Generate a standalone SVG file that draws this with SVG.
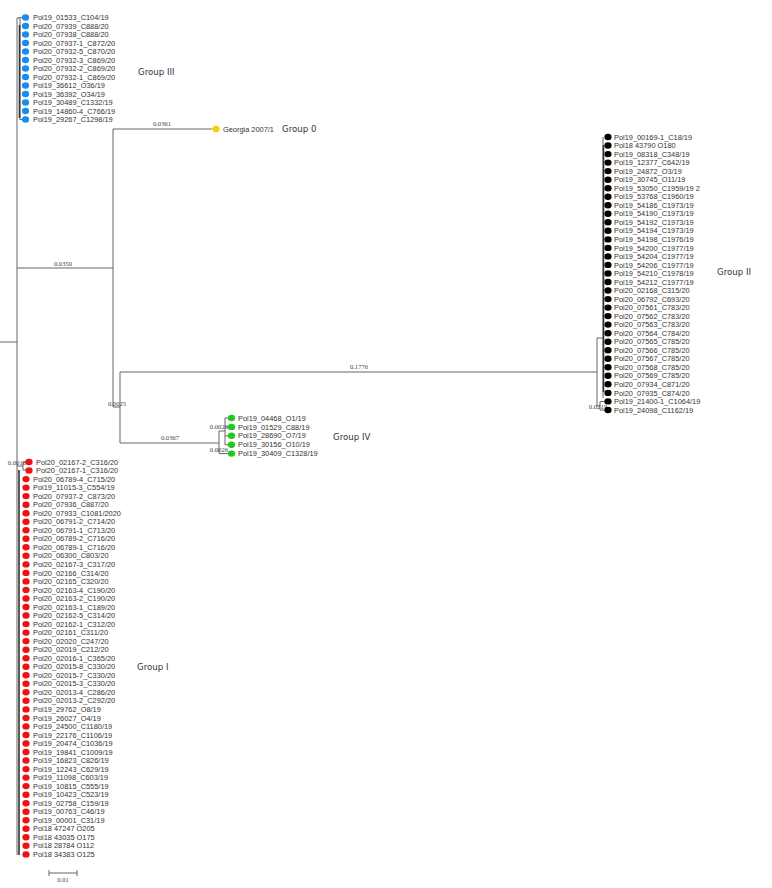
<svg xmlns="http://www.w3.org/2000/svg" width="772" height="888" viewBox="0 0 772 888">
<style>
.e{fill:none;stroke:#666;stroke-width:1}
.k{fill:none;stroke:#333;stroke-width:1.6}
.t{font-family:"Liberation Sans",Arial,sans-serif;font-size:7.4px;fill:#333}
.b{font-family:"Liberation Serif",serif;font-size:6.6px;fill:#444}
.g{font-family:"DejaVu Sans",sans-serif;font-size:8.6px;fill:#333}
.blue{fill:#1a8cf0}.red{fill:#f01010}.grn{fill:#22c822}.yel{fill:#f2d200}.blk{fill:#000}
</style>
<rect width="772" height="888" fill="#fff"/>
<g id="connectors">
<path class="e" d="M0 342H17M17 18V855"/>
<path class="e" d="M17 18H20M20 17V120"/>
<path class="k" d="M19.5 25V118"/>
<path class="e" d="M17 268H113M113 129V407M113 129H212M113 407H120M120 372V443M120 372H597M120 443H219"/>
<path class="e" d="M219 431V453.6M219 431H225M225 418V444.7M219 453.6H231"/>
<path class="e" d="M603 137V398M597 338V406M597 338H603M597 406H600M600 401.5V410"/>
<path class="k" d="M603.5 145V392"/>
<path class="e" d="M17 466H23M23 462V470"/>
<path class="k" d="M19 470V855"/>
<path class="e" d="M49 873H77M49 870V876M77 870V876"/>
</g>
<g id="branch-labels">
<text class="b" x="162" y="126" text-anchor="middle">0.0361</text>
<text class="b" x="63" y="266" text-anchor="middle">0.0350</text>
<text class="b" x="359" y="369" text-anchor="middle">0.1776</text>
<text class="b" x="117" y="406" text-anchor="middle">0.0025</text>
<text class="b" x="170" y="440" text-anchor="middle">0.0367</text>
<text class="b" x="228" y="429" text-anchor="end">0.0026</text>
<text class="b" x="228" y="452" text-anchor="end">0.0026</text>
<text class="b" x="607" y="409" text-anchor="end">0.0219</text>
<text class="b" x="26" y="465" text-anchor="end">0.0018</text>
<text class="b" x="63" y="882" text-anchor="middle">0.01</text>
</g>
<g id="group-labels">
<text class="g" x="138" y="75">Group III</text>
<text class="g" x="282" y="132">Group 0</text>
<text class="g" x="717" y="275">Group II</text>
<text class="g" x="333" y="440">Group IV</text>
<text class="g" x="137" y="670">Group I</text>
</g>
<g id="group-III">
<g id="n-b1"><path class="e" d="M20 17.5H25"/><ellipse class="blue" cx="25.5" cy="17.5" rx="3.6" ry="3.2"/><text class="t" x="33" y="20.1">Pol19_01533_C104/19</text></g>
<g id="n-b2"><ellipse class="blue" cx="25.5" cy="26" rx="3.6" ry="3.2"/><text class="t" x="33" y="28.6">Pol20_07939_C888/20</text></g>
<g id="n-b3"><ellipse class="blue" cx="25.5" cy="34.5" rx="3.6" ry="3.2"/><text class="t" x="33" y="37.1">Pol20_07938_C888/20</text></g>
<g id="n-b4"><ellipse class="blue" cx="25.5" cy="43" rx="3.6" ry="3.2"/><text class="t" x="33" y="45.6">Pol20_07937-1_C872/20</text></g>
<g id="n-b5"><ellipse class="blue" cx="25.5" cy="51.5" rx="3.6" ry="3.2"/><text class="t" x="33" y="54.1">Pol20_07932-5_C870/20</text></g>
<g id="n-b6"><ellipse class="blue" cx="25.5" cy="60" rx="3.6" ry="3.2"/><text class="t" x="33" y="62.6">Pol20_07932-3_C869/20</text></g>
<g id="n-b7"><ellipse class="blue" cx="25.5" cy="68.5" rx="3.6" ry="3.2"/><text class="t" x="33" y="71.1">Pol20_07932-2_C869/20</text></g>
<g id="n-b8"><ellipse class="blue" cx="25.5" cy="77" rx="3.6" ry="3.2"/><text class="t" x="33" y="79.6">Pol20_07932-1_C869/20</text></g>
<g id="n-b9"><ellipse class="blue" cx="25.5" cy="85.5" rx="3.6" ry="3.2"/><text class="t" x="33" y="88.1">Pol19_36612_O36/19</text></g>
<g id="n-b10"><ellipse class="blue" cx="25.5" cy="94" rx="3.6" ry="3.2"/><text class="t" x="33" y="96.6">Pol19_36392_O34/19</text></g>
<g id="n-b11"><ellipse class="blue" cx="25.5" cy="102.5" rx="3.6" ry="3.2"/><text class="t" x="33" y="105.1">Pol19_30489_C1332/19</text></g>
<g id="n-b12"><ellipse class="blue" cx="25.5" cy="111" rx="3.6" ry="3.2"/><text class="t" x="33" y="113.6">Pol19_14860-4_C766/19</text></g>
<g id="n-b13"><path class="e" d="M20 119.5H25"/><ellipse class="blue" cx="25.5" cy="119.5" rx="3.6" ry="3.2"/><text class="t" x="33" y="122.1">Pol19_29267_C1298/19</text></g>
</g>
<g id="group-0">
<g id="n-georgia"><ellipse class="yel" cx="216" cy="129" rx="3.6" ry="3.2"/><text class="t" x="223" y="131.6">Georgia 2007/1</text></g>
</g>
<g id="group-II">
<g id="n-k1"><ellipse class="blk" cx="608" cy="137" rx="3.6" ry="3.2"/><text class="t" x="614" y="139.6">Pol19_00169-1_C18/19</text></g>
<g id="n-k2"><ellipse class="blk" cx="608" cy="145.5" rx="3.6" ry="3.2"/><text class="t" x="614" y="148.1">Pol18 43790 O180</text></g>
<g id="n-k3"><ellipse class="blk" cx="608" cy="154.1" rx="3.6" ry="3.2"/><text class="t" x="614" y="156.7">Pol19_08318_C348/19</text></g>
<g id="n-k4"><ellipse class="blk" cx="608" cy="162.6" rx="3.6" ry="3.2"/><text class="t" x="614" y="165.2">Pol19_12377_C642/19</text></g>
<g id="n-k5"><ellipse class="blk" cx="608" cy="171.1" rx="3.6" ry="3.2"/><text class="t" x="614" y="173.7">Pol19_24872_O3/19</text></g>
<g id="n-k6"><ellipse class="blk" cx="608" cy="179.7" rx="3.6" ry="3.2"/><text class="t" x="614" y="182.3">Pol19_30745_O11/19</text></g>
<g id="n-k7"><ellipse class="blk" cx="608" cy="188.2" rx="3.6" ry="3.2"/><text class="t" x="614" y="190.8">Pol19_53050_C1959/19 2</text></g>
<g id="n-k8"><ellipse class="blk" cx="608" cy="196.7" rx="3.6" ry="3.2"/><text class="t" x="614" y="199.3">Pol19_53768_C1960/19</text></g>
<g id="n-k9"><ellipse class="blk" cx="608" cy="205.2" rx="3.6" ry="3.2"/><text class="t" x="614" y="207.8">Pol19_54186_C1973/19</text></g>
<g id="n-k10"><ellipse class="blk" cx="608" cy="213.8" rx="3.6" ry="3.2"/><text class="t" x="614" y="216.4">Pol19_54190_C1973/19</text></g>
<g id="n-k11"><ellipse class="blk" cx="608" cy="222.3" rx="3.6" ry="3.2"/><text class="t" x="614" y="224.9">Pol19_54192_C1973/19</text></g>
<g id="n-k12"><ellipse class="blk" cx="608" cy="230.8" rx="3.6" ry="3.2"/><text class="t" x="614" y="233.4">Pol19_54194_C1973/19</text></g>
<g id="n-k13"><ellipse class="blk" cx="608" cy="239.4" rx="3.6" ry="3.2"/><text class="t" x="614" y="242">Pol19_54198_C1976/19</text></g>
<g id="n-k14"><ellipse class="blk" cx="608" cy="247.9" rx="3.6" ry="3.2"/><text class="t" x="614" y="250.5">Pol19_54200_C1977/19</text></g>
<g id="n-k15"><ellipse class="blk" cx="608" cy="256.4" rx="3.6" ry="3.2"/><text class="t" x="614" y="259">Pol19_54204_C1977/19</text></g>
<g id="n-k16"><ellipse class="blk" cx="608" cy="264.9" rx="3.6" ry="3.2"/><text class="t" x="614" y="267.5">Pol19_54206_C1977/19</text></g>
<g id="n-k17"><ellipse class="blk" cx="608" cy="273.5" rx="3.6" ry="3.2"/><text class="t" x="614" y="276.1">Pol19_54210_C1978/19</text></g>
<g id="n-k18"><ellipse class="blk" cx="608" cy="282" rx="3.6" ry="3.2"/><text class="t" x="614" y="284.6">Pol19_54212_C1977/19</text></g>
<g id="n-k19"><ellipse class="blk" cx="608" cy="290.5" rx="3.6" ry="3.2"/><text class="t" x="614" y="293.1">Pol20_02168_C315/20</text></g>
<g id="n-k20"><ellipse class="blk" cx="608" cy="299.1" rx="3.6" ry="3.2"/><text class="t" x="614" y="301.7">Pol20_06792_C693/20</text></g>
<g id="n-k21"><ellipse class="blk" cx="608" cy="307.6" rx="3.6" ry="3.2"/><text class="t" x="614" y="310.2">Pol20_07561_C783/20</text></g>
<g id="n-k22"><ellipse class="blk" cx="608" cy="316.1" rx="3.6" ry="3.2"/><text class="t" x="614" y="318.7">Pol20_07562_C783/20</text></g>
<g id="n-k23"><ellipse class="blk" cx="608" cy="324.6" rx="3.6" ry="3.2"/><text class="t" x="614" y="327.2">Pol20_07563_C783/20</text></g>
<g id="n-k24"><ellipse class="blk" cx="608" cy="333.2" rx="3.6" ry="3.2"/><text class="t" x="614" y="335.8">Pol20_07564_C784/20</text></g>
<g id="n-k25"><ellipse class="blk" cx="608" cy="341.7" rx="3.6" ry="3.2"/><text class="t" x="614" y="344.3">Pol20_07565_C785/20</text></g>
<g id="n-k26"><ellipse class="blk" cx="608" cy="350.2" rx="3.6" ry="3.2"/><text class="t" x="614" y="352.8">Pol20_07566_C785/20</text></g>
<g id="n-k27"><ellipse class="blk" cx="608" cy="358.8" rx="3.6" ry="3.2"/><text class="t" x="614" y="361.4">Pol20_07567_C785/20</text></g>
<g id="n-k28"><ellipse class="blk" cx="608" cy="367.3" rx="3.6" ry="3.2"/><text class="t" x="614" y="369.9">Pol20_07568_C785/20</text></g>
<g id="n-k29"><ellipse class="blk" cx="608" cy="375.8" rx="3.6" ry="3.2"/><text class="t" x="614" y="378.4">Pol20_07569_C785/20</text></g>
<g id="n-k30"><ellipse class="blk" cx="608" cy="384.3" rx="3.6" ry="3.2"/><text class="t" x="614" y="386.9">Pol20_07934_C871/20</text></g>
<g id="n-k31"><ellipse class="blk" cx="608" cy="392.9" rx="3.6" ry="3.2"/><text class="t" x="614" y="395.5">Pol20_07935_C874/20</text></g>
<g id="n-k32"><path class="e" d="M600 401.5H608"/><ellipse class="blk" cx="608" cy="401.4" rx="3.6" ry="3.2"/><text class="t" x="614" y="404">Pol19_21400-1_C1064/19</text></g>
<g id="n-k33"><path class="e" d="M600 410H608"/><ellipse class="blk" cx="608" cy="410" rx="3.6" ry="3.2"/><text class="t" x="614" y="412.6">Pol19_24098_C1162/19</text></g>
</g>
<g id="group-IV">
<g id="n-g1"><path class="e" d="M225 418H231"/><ellipse class="grn" cx="231.5" cy="418" rx="3.6" ry="3.2"/><text class="t" x="238" y="420.6">Pol19_04468_O1/19</text></g>
<g id="n-g2"><path class="e" d="M225 426.9H231"/><ellipse class="grn" cx="231.5" cy="426.9" rx="3.6" ry="3.2"/><text class="t" x="238" y="429.5">Pol19_01529_C88/19</text></g>
<g id="n-g3"><path class="e" d="M225 435.8H231"/><ellipse class="grn" cx="231.5" cy="435.8" rx="3.6" ry="3.2"/><text class="t" x="238" y="438.4">Pol19_28690_O7/19</text></g>
<g id="n-g4"><path class="e" d="M225 444.7H231"/><ellipse class="grn" cx="231.5" cy="444.7" rx="3.6" ry="3.2"/><text class="t" x="238" y="447.3">Pol19_30156_O10/19</text></g>
<g id="n-g5"><ellipse class="grn" cx="231.5" cy="453.6" rx="3.6" ry="3.2"/><text class="t" x="238" y="456.2">Pol19_30409_C1328/19</text></g>
</g>
<g id="group-I">
<g id="n-r1"><path class="e" d="M23 462H29"/><ellipse class="red" cx="29" cy="462" rx="3.6" ry="3.2"/><text class="t" x="36" y="464.6">Pol20_02167-2_C316/20</text></g>
<g id="n-r2"><path class="e" d="M23 470H29"/><ellipse class="red" cx="29" cy="470.5" rx="3.6" ry="3.2"/><text class="t" x="36" y="473.1">Pol20_02167-1_C316/20</text></g>
<g id="n-r3"><ellipse class="red" cx="26" cy="479.1" rx="3.6" ry="3.2"/><text class="t" x="33" y="481.7">Pol20_06789-4_C715/20</text></g>
<g id="n-r4"><ellipse class="red" cx="26" cy="487.6" rx="3.6" ry="3.2"/><text class="t" x="33" y="490.2">Pol19_11015-3_C554/19</text></g>
<g id="n-r5"><ellipse class="red" cx="26" cy="496.1" rx="3.6" ry="3.2"/><text class="t" x="33" y="498.7">Pol20_07937-2_C873/20</text></g>
<g id="n-r6"><ellipse class="red" cx="26" cy="504.7" rx="3.6" ry="3.2"/><text class="t" x="33" y="507.3">Pol20_07936_C887/20</text></g>
<g id="n-r7"><ellipse class="red" cx="26" cy="513.2" rx="3.6" ry="3.2"/><text class="t" x="33" y="515.8">Pol20_07933_C1081/2020</text></g>
<g id="n-r8"><ellipse class="red" cx="26" cy="521.7" rx="3.6" ry="3.2"/><text class="t" x="33" y="524.3">Pol20_06791-2_C714/20</text></g>
<g id="n-r9"><ellipse class="red" cx="26" cy="530.2" rx="3.6" ry="3.2"/><text class="t" x="33" y="532.8">Pol20_06791-1_C713/20</text></g>
<g id="n-r10"><ellipse class="red" cx="26" cy="538.8" rx="3.6" ry="3.2"/><text class="t" x="33" y="541.4">Pol20_06789-2_C716/20</text></g>
<g id="n-r11"><ellipse class="red" cx="26" cy="547.3" rx="3.6" ry="3.2"/><text class="t" x="33" y="549.9">Pol20_06789-1_C716/20</text></g>
<g id="n-r12"><ellipse class="red" cx="26" cy="555.8" rx="3.6" ry="3.2"/><text class="t" x="33" y="558.4">Pol20_06300_C803/20</text></g>
<g id="n-r13"><ellipse class="red" cx="26" cy="564.4" rx="3.6" ry="3.2"/><text class="t" x="33" y="567">Pol20_02167-3_C317/20</text></g>
<g id="n-r14"><ellipse class="red" cx="26" cy="572.9" rx="3.6" ry="3.2"/><text class="t" x="33" y="575.5">Pol20_02166_C314/20</text></g>
<g id="n-r15"><ellipse class="red" cx="26" cy="581.4" rx="3.6" ry="3.2"/><text class="t" x="33" y="584">Pol20_02165_C320/20</text></g>
<g id="n-r16"><ellipse class="red" cx="26" cy="589.9" rx="3.6" ry="3.2"/><text class="t" x="33" y="592.5">Pol20_02163-4_C190/20</text></g>
<g id="n-r17"><ellipse class="red" cx="26" cy="598.5" rx="3.6" ry="3.2"/><text class="t" x="33" y="601.1">Pol20_02163-2_C190/20</text></g>
<g id="n-r18"><ellipse class="red" cx="26" cy="607" rx="3.6" ry="3.2"/><text class="t" x="33" y="609.6">Pol20_02163-1_C189/20</text></g>
<g id="n-r19"><ellipse class="red" cx="26" cy="615.5" rx="3.6" ry="3.2"/><text class="t" x="33" y="618.1">Pol20_02162-5_C314/20</text></g>
<g id="n-r20"><ellipse class="red" cx="26" cy="624.1" rx="3.6" ry="3.2"/><text class="t" x="33" y="626.7">Pol20_02162-1_C312/20</text></g>
<g id="n-r21"><ellipse class="red" cx="26" cy="632.6" rx="3.6" ry="3.2"/><text class="t" x="33" y="635.2">Pol20_02161_C311/20</text></g>
<g id="n-r22"><ellipse class="red" cx="26" cy="641.1" rx="3.6" ry="3.2"/><text class="t" x="33" y="643.7">Pol20_02020_C247/20</text></g>
<g id="n-r23"><ellipse class="red" cx="26" cy="649.7" rx="3.6" ry="3.2"/><text class="t" x="33" y="652.3">Pol20_02019_C212/20</text></g>
<g id="n-r24"><ellipse class="red" cx="26" cy="658.2" rx="3.6" ry="3.2"/><text class="t" x="33" y="660.8">Pol20_02016-1_C365/20</text></g>
<g id="n-r25"><ellipse class="red" cx="26" cy="666.7" rx="3.6" ry="3.2"/><text class="t" x="33" y="669.3">Pol20_02015-8_C330/20</text></g>
<g id="n-r26"><ellipse class="red" cx="26" cy="675.2" rx="3.6" ry="3.2"/><text class="t" x="33" y="677.8">Pol20_02015-7_C330/20</text></g>
<g id="n-r27"><ellipse class="red" cx="26" cy="683.8" rx="3.6" ry="3.2"/><text class="t" x="33" y="686.4">Pol20_02015-3_C330/20</text></g>
<g id="n-r28"><ellipse class="red" cx="26" cy="692.3" rx="3.6" ry="3.2"/><text class="t" x="33" y="694.9">Pol20_02013-4_C286/20</text></g>
<g id="n-r29"><ellipse class="red" cx="26" cy="700.8" rx="3.6" ry="3.2"/><text class="t" x="33" y="703.4">Pol20_02013-2_C292/20</text></g>
<g id="n-r30"><ellipse class="red" cx="26" cy="709.4" rx="3.6" ry="3.2"/><text class="t" x="33" y="712">Pol19_29762_O8/19</text></g>
<g id="n-r31"><ellipse class="red" cx="26" cy="717.9" rx="3.6" ry="3.2"/><text class="t" x="33" y="720.5">Pol19_26027_O4/19</text></g>
<g id="n-r32"><ellipse class="red" cx="26" cy="726.4" rx="3.6" ry="3.2"/><text class="t" x="33" y="729">Pol19_24500_C1180/19</text></g>
<g id="n-r33"><ellipse class="red" cx="26" cy="735" rx="3.6" ry="3.2"/><text class="t" x="33" y="737.6">Pol19_22176_C1106/19</text></g>
<g id="n-r34"><ellipse class="red" cx="26" cy="743.5" rx="3.6" ry="3.2"/><text class="t" x="33" y="746.1">Pol19_20474_C1036/19</text></g>
<g id="n-r35"><ellipse class="red" cx="26" cy="752" rx="3.6" ry="3.2"/><text class="t" x="33" y="754.6">Pol19_19841_C1009/19</text></g>
<g id="n-r36"><ellipse class="red" cx="26" cy="760.5" rx="3.6" ry="3.2"/><text class="t" x="33" y="763.1">Pol19_16823_C826/19</text></g>
<g id="n-r37"><ellipse class="red" cx="26" cy="769.1" rx="3.6" ry="3.2"/><text class="t" x="33" y="771.7">Pol19_12243_C629/19</text></g>
<g id="n-r38"><ellipse class="red" cx="26" cy="777.6" rx="3.6" ry="3.2"/><text class="t" x="33" y="780.2">Pol19_11098_C603/19</text></g>
<g id="n-r39"><ellipse class="red" cx="26" cy="786.1" rx="3.6" ry="3.2"/><text class="t" x="33" y="788.7">Pol19_10815_C555/19</text></g>
<g id="n-r40"><ellipse class="red" cx="26" cy="794.7" rx="3.6" ry="3.2"/><text class="t" x="33" y="797.3">Pol19_10423_C523/19</text></g>
<g id="n-r41"><ellipse class="red" cx="26" cy="803.2" rx="3.6" ry="3.2"/><text class="t" x="33" y="805.8">Pol19_02758_C159/19</text></g>
<g id="n-r42"><ellipse class="red" cx="26" cy="811.7" rx="3.6" ry="3.2"/><text class="t" x="33" y="814.3">Pol19_00763_C46/19</text></g>
<g id="n-r43"><ellipse class="red" cx="26" cy="820.3" rx="3.6" ry="3.2"/><text class="t" x="33" y="822.9">Pol19_00001_C31/19</text></g>
<g id="n-r44"><ellipse class="red" cx="26" cy="828.8" rx="3.6" ry="3.2"/><text class="t" x="33" y="831.4">Pol18 47247 O205</text></g>
<g id="n-r45"><ellipse class="red" cx="26" cy="837.3" rx="3.6" ry="3.2"/><text class="t" x="33" y="839.9">Pol18 43035 O175</text></g>
<g id="n-r46"><ellipse class="red" cx="26" cy="845.8" rx="3.6" ry="3.2"/><text class="t" x="33" y="848.4">Pol18 28784 O112</text></g>
<g id="n-r47"><ellipse class="red" cx="26" cy="854.4" rx="3.6" ry="3.2"/><text class="t" x="33" y="857">Pol18 34383 O125</text></g>
</g>
</svg>
